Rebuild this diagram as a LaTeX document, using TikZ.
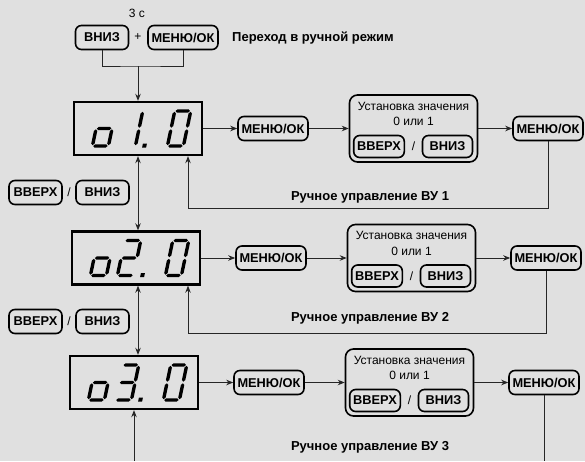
\documentclass[tikz,border=0pt]{standalone}
\usepackage{fontspec}
\setmainfont{Liberation Sans}
\usetikzlibrary{arrows.meta,calc}
\tikzset{
  btn/.style={
    draw=black,
    line width=1.6pt,
    rounded corners=6pt,
    minimum width=53pt,
    minimum height=24pt,
    inner xsep=3.5pt,
    inner ysep=0pt,
    font=\bfseries\fontsize{12.8}{14}\selectfont
  },
  btn-small/.style={btn, minimum width=50pt, minimum height=22pt},
  disp/.style={draw=black, line width=2.4pt, minimum width=128pt, minimum height=53pt, inner sep=0pt},
  set-box/.style={draw=black, line width=1.6pt, rounded corners=8pt, minimum width=128pt, minimum height=67pt, inner sep=0pt},
  txt/.style={font=\fontsize{12}{14}\selectfont, inner sep=0pt},
  txt-bold/.style={font=\bfseries\fontsize{13}{15}\selectfont, inner sep=0pt},
  flow/.style={line width=0.9pt, draw=black!85}
}
\definecolor{panelgray}{RGB}{224,224,224}
% seven segment pieces, digit frame 20 x 39
\newcommand{\hseg}[3]{\fill (#1+0.8,#3) -- (#1+2.5,#3+1.7) -- (#2-2.5,#3+1.7) -- (#2-0.8,#3) -- (#2-2.5,#3-1.7) -- (#1+2.5,#3-1.7) -- cycle;}
\newcommand{\vseg}[3]{\fill (#1,#2-0.8) -- (#1+1.7,#2-2.5) -- (#1+1.7,#3+2.5) -- (#1,#3+0.8) -- (#1-1.7,#3+2.5) -- (#1-1.7,#2-2.5) -- cycle;}
\newcommand{\segA}{\hseg{2}{18}{37}}
\newcommand{\segB}{\vseg{18}{37}{19.5}}
\newcommand{\segC}{\vseg{18}{19.5}{2}}
\newcommand{\segD}{\hseg{2}{18}{2}}
\newcommand{\segE}{\vseg{2}{19.5}{2}}
\newcommand{\segF}{\vseg{2}{37}{19.5}}
\newcommand{\segG}{\hseg{2}{18}{19.5}}
\newcommand{\segdigit}[2]{
  \begin{scope}[shift={(#1,-19.5)}, xslant=0.21]
    \foreach \s in {#2} {\csname seg\s\endcsname}
  \end{scope}
}
\newcommand{\segdot}[1]{
  \begin{scope}[shift={(#1,-19.5)}, xslant=0.21]
    \fill (25,0.3) rectangle (29,4.3);
  \end{scope}
}

\begin{document}
\begin{tikzpicture}[x=1pt, y=-1pt, >={Stealth[length=7pt,width=5.5pt]}]
  \path[use as bounding box, fill=panelgray] (0,0) rectangle (585,461);

  % Entry into manual mode
  \node[txt] (secs) at (137,13) {3 с};
  \node[btn] (tdown) at (102,37.5) {ВНИЗ};
  \node[txt] (plus) at (138,37.5) {+};
  \node[btn] (tmenu) at (183,37.5) {МЕНЮ/ОК};
  \node[txt-bold, anchor=west] (manual) at (232,38) {Переход в ручной режим};
  \coordinate (join) at (138,66);
  \draw[flow] (tdown.south) |- (join) -| (tmenu.south);

  % Rows
  \foreach \r/\dx/\y/\fy/\ly in {1/0/128.5/208/197, 2/-2/258/333/318, 3/-4/382.5/461/447} {
    \node[disp] (d\r) at (138+\dx,\y) {};
    \node[btn] (m\r) at (273+\dx,\y) {МЕНЮ/ОК};
    \node[set-box] (s\r) at (413.5+\dx,\y) {};
    \node[txt] (st\r) at ($(s\r.center)+(0,-22.5)$) {Установка значения};
    \node[txt] (sv\r) at ($(s\r.center)+(0,-7)$) {0 или 1};
    \node[btn-small] (su\r) at ($(s\r.center)+(-34.5,18)$) {ВВЕРХ};
    \node[txt] (ss\r) at ($(s\r.center)+(0,18)$) {/};
    \node[btn-small] (sd\r) at ($(s\r.center)+(34,18)$) {ВНИЗ};
    \node[btn] (mr\r) at (548+\dx,\y) {МЕНЮ/ОК};
    \node[txt-bold] (l\r) at (370,\ly) {Ручное управление ВУ \r};
    \coordinate (fb\r) at (188,\fy);
    \draw[flow,->] (d\r.east) -- (m\r.west);
    \draw[flow,->] (m\r.east) -- (s\r.west);
    \draw[flow,->] (s\r.east) -- (mr\r.west);
  }

  % Feedback to the display
  \draw[flow,->] (mr1.south) |- (fb1) -- (fb1 |- d1.south);
  \draw[flow,->] (mr2.south) |- (fb2) -- (fb2 |- d2.south);
  \draw[flow] (mr3.south) -- (mr3.south |- fb3);

  % Up / down between channels
  \draw[flow,->] (join) -- (join |- d1.north);
  \node[btn] (nu1) at (35.5,192.5) {ВВЕРХ};
  \node[txt] (ns1) at (69,192.5) {/};
  \node[btn] (nd1) at (102.5,192.5) {ВНИЗ};
  \node[btn] (nu2) at (35.5,321.5) {ВВЕРХ};
  \node[txt] (ns2) at (69,321.5) {/};
  \node[btn] (nd2) at (102.5,321.5) {ВНИЗ};
  \draw[flow,<->] (d1.south -| join) -- (d2.north -| join);
  \draw[flow,<->] (d2.south -| join) -- (d3.north -| join);
  \draw[flow,->] (d3.south |- fb3) -- (d3.south);

  % Display digits
  \begin{scope}[shift={(d1.center)}, x=1pt, y=1pt]
    \segdigit{-48}{C,D,E,G}
    \segdigit{-21}{B,C}
    \segdot{-21}
    \segdigit{27}{A,B,C,D,E,F}
  \end{scope}
  \begin{scope}[shift={(d2.center)}, x=1pt, y=1pt]
    \segdigit{-48}{C,D,E,G}
    \segdigit{-21}{A,B,G,E,D}
    \segdot{-21}
    \segdigit{27}{A,B,C,D,E,F}
  \end{scope}
  \begin{scope}[shift={(d3.center)}, x=1pt, y=1pt]
    \segdigit{-48}{C,D,E,G}
    \segdigit{-21}{A,B,G,C,D}
    \segdot{-21}
    \segdigit{27}{A,B,C,D,E,F}
  \end{scope}
\end{tikzpicture}
\end{document}
